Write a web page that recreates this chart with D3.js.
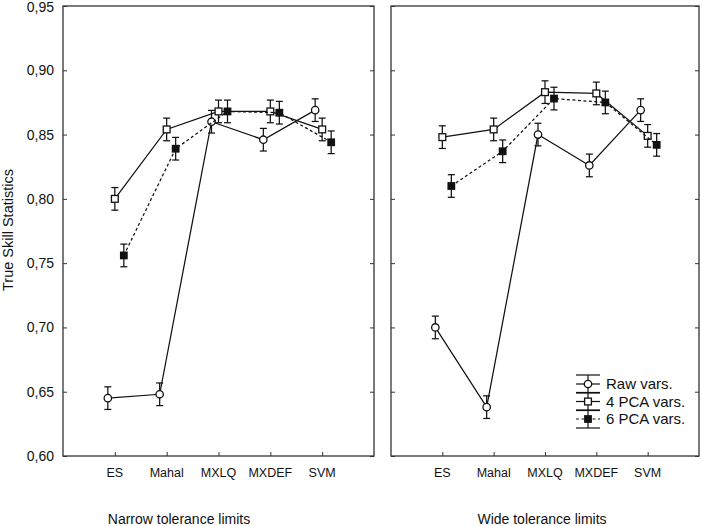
<!DOCTYPE html>
<html><head><meta charset="utf-8">
<script src="https://cdn.jsdelivr.net/npm/d3@7"></script>
<style>body{margin:0;background:#fff;} text{font-family:"Liberation Sans",Arial,sans-serif;fill:#111;}</style>
</head><body>
<svg id="c" width="702" height="526"></svg>
<script>
const categories = ["ES","Mahal","MXLQ","MXDEF","SVM"];
const yTicks = [0.60,0.65,0.70,0.75,0.80,0.85,0.90,0.95];
const panelTitles = ["Narrow tolerance limits","Wide tolerance limits"];
const seriesNames = ["Raw vars.","4 PCA vars.","6 PCA vars."];
// Narrow tolerance limits
const narrowRaw  = [0.645,0.648,0.860,0.846,0.869];
const narrowPCA4 = [0.800,0.854,0.868,0.868,0.854];
const narrowPCA6 = [0.756,0.839,0.868,0.867,0.844];
// Wide tolerance limits
const wideRaw  = [0.700,0.638,0.850,0.826,0.869];
const widePCA4 = [0.848,0.854,0.883,0.882,0.849];
const widePCA6 = [0.810,0.837,0.878,0.875,0.842];
const errHalf = 0.0088;

(function(){
const svg = d3.select("#c");
const yTop = 6, yBot = 456;
const y = d3.scaleLinear().domain([0.60,0.95]).range([yBot, yTop]);
const panels = [
  {x0:63, x1:374, title:panelTitles[0], tx:179, data:[narrowRaw,narrowPCA4,narrowPCA6]},
  {x0:391, x1:699, title:panelTitles[1], tx:542, data:[wideRaw,widePCA4,widePCA6]}
];
const offsets = [-7,0,9];
const col = "#111";

function marker(g, type, cx, cy){
  if(type===0){
    g.append("circle").attr("cx",cx).attr("cy",cy).attr("r",3.7)
      .attr("fill","#fff").attr("stroke",col).attr("stroke-width",1.3);
  } else if(type===1){
    g.append("rect").attr("x",cx-3.4).attr("y",cy-3.4).attr("width",6.8).attr("height",6.8)
      .attr("fill","#fff").attr("stroke",col).attr("stroke-width",1.3);
  } else {
    g.append("rect").attr("x",cx-3.9).attr("y",cy-3.9).attr("width",7.8).attr("height",7.8)
      .attr("fill",col);
  }
}

panels.forEach((p,pi)=>{
  const x = d3.scalePoint().domain(categories).range([p.x0,p.x1]).padding(1);
  const g = svg.append("g");
  g.append("rect").attr("x",p.x0).attr("y",yTop).attr("width",p.x1-p.x0).attr("height",yBot-yTop)
    .attr("fill","none").attr("stroke","#333").attr("stroke-width",1.3);
  const axL = d3.axisRight(y).tickValues(yTicks).tickSize(4).tickFormat("");
  g.append("g").attr("transform",`translate(${p.x0},0)`).call(axL).call(s=>{s.select(".domain").remove();s.selectAll("line").attr("stroke","#333");});
  const axR = d3.axisLeft(y).tickValues(yTicks).tickSize(4).tickFormat("");
  g.append("g").attr("transform",`translate(${p.x1},0)`).call(axR).call(s=>{s.select(".domain").remove();s.selectAll("line").attr("stroke","#333");});
  const axB = d3.axisTop(x).tickSize(4).tickFormat("");
  g.append("g").attr("transform",`translate(0,${yBot})`).call(axB).call(s=>{s.select(".domain").remove();s.selectAll("line").attr("stroke","#333");});
  g.selectAll(".cl").data(categories).enter().append("text")
    .attr("x",d=>x(d)).attr("y",477).attr("text-anchor","middle")
    .style("font-size","12.5px").text(d=>d);
  if(pi===0){
    g.selectAll(".yl").data(yTicks).enter().append("text")
      .attr("x",54).attr("y",d=>Math.max(y(d)+5,12)).attr("text-anchor","end")
      .style("font-size","14px").text(d=>d3.format(".2f")(d).replace(".",","));
  }
  g.append("text").attr("x",p.tx).attr("y",524).attr("text-anchor","middle")
    .style("font-size","14px").text(p.title);
  p.data.forEach((vals,si)=>{
    const line = d3.line().x((d,i)=>x(categories[i])+offsets[si]).y(d=>y(d));
    g.append("path").datum(vals).attr("d",line).attr("fill","none").attr("stroke",col)
      .attr("stroke-width",1.25).attr("stroke-dasharray",si===2?"3,2.5":null);
    vals.forEach((v,i)=>{
      const cx = x(categories[i])+offsets[si];
      const eb = g.append("g").attr("stroke",col).attr("stroke-width",1.25);
      eb.append("line").attr("x1",cx).attr("x2",cx).attr("y1",y(v+errHalf)).attr("y2",y(v-errHalf));
      eb.append("line").attr("x1",cx-3.5).attr("x2",cx+3.5).attr("y1",y(v+errHalf)).attr("y2",y(v+errHalf));
      eb.append("line").attr("x1",cx-3.5).attr("x2",cx+3.5).attr("y1",y(v-errHalf)).attr("y2",y(v-errHalf));
      marker(g,si,cx,y(v));
    });
  });
});

svg.append("text").attr("transform","translate(13,230) rotate(-90)").attr("text-anchor","middle")
  .style("font-size","14.5px").text("True Skill Statistics");

const lg = svg.append("g");
const lx = 588, ly0 = 384, lstep = 17.5;
seriesNames.forEach((n,i)=>{
  const cy = ly0 + i*lstep;
  const gg = lg.append("g").attr("stroke",col).attr("stroke-width",1.2);
  gg.append("line").attr("x1",lx-12).attr("x2",lx+12).attr("y1",cy).attr("y2",cy)
    .attr("stroke-dasharray",i===2?"3,2.5":null);
  gg.append("line").attr("x1",lx).attr("x2",lx).attr("y1",cy-9).attr("y2",cy+9);
  gg.append("line").attr("x1",lx-12).attr("x2",lx+12).attr("y1",cy-9).attr("y2",cy-9);
  gg.append("line").attr("x1",lx-12).attr("x2",lx+12).attr("y1",cy+9).attr("y2",cy+9);
  marker(lg,i,lx,cy);
  lg.append("text").attr("x",606).attr("y",cy+5).style("font-size","15px").text(n);
});
})();
</script>
</body></html>
